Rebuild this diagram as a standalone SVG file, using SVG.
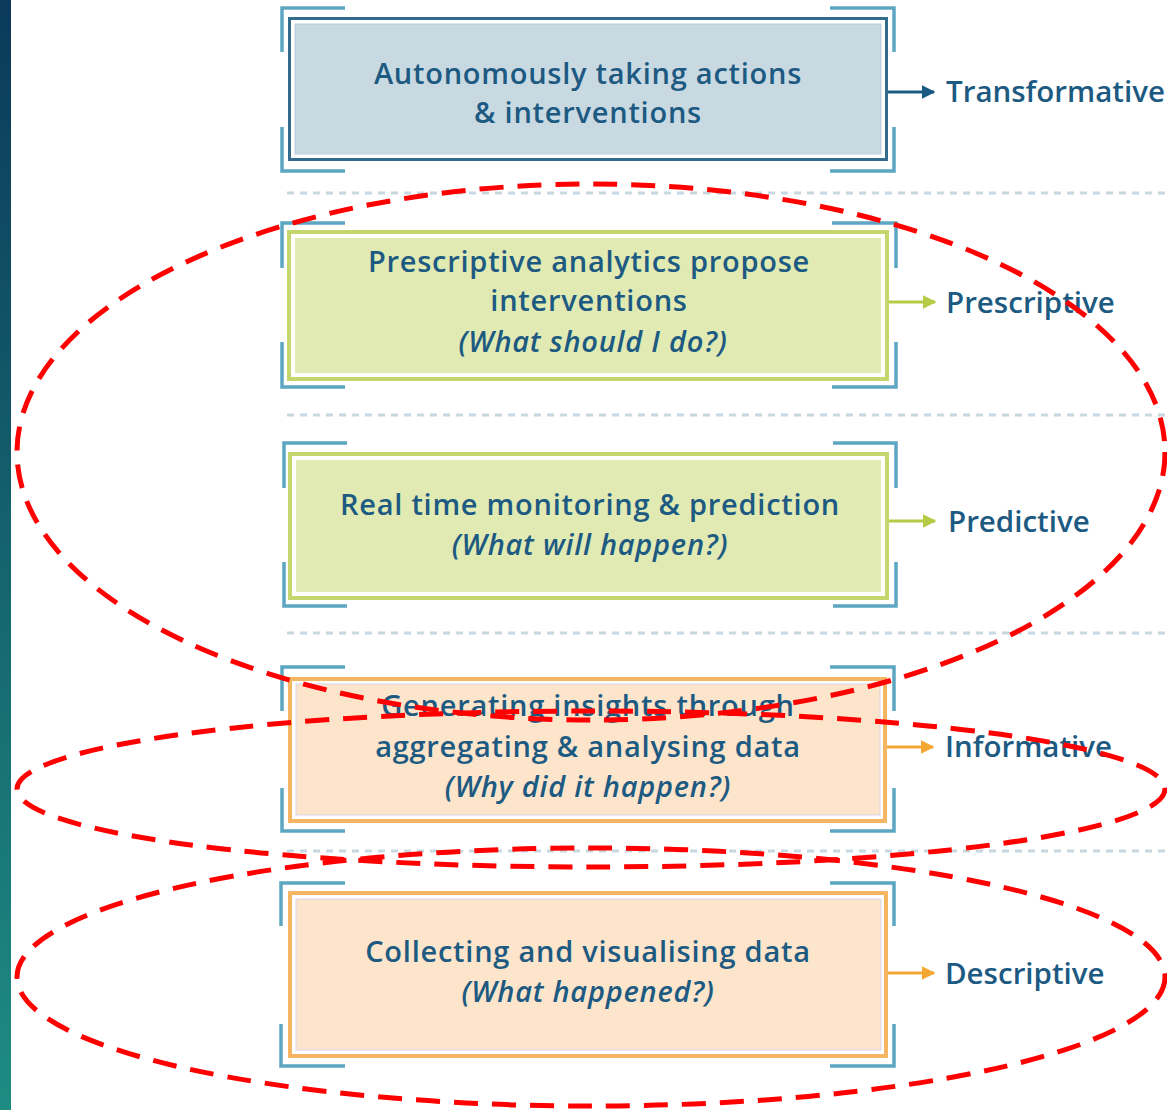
<svg xmlns="http://www.w3.org/2000/svg" width="1167" height="1110" viewBox="0 0 1167 1110">
<defs>
<linearGradient id="bar" x1="0" y1="0" x2="0" y2="1">
<stop offset="0" stop-color="#0b3a5a"/>
<stop offset="1" stop-color="#1e8c82"/>
</linearGradient>
<marker id="ahB" viewBox="0 0 10 10" refX="9" refY="5" markerWidth="4.5" markerHeight="4.5" orient="auto"><path d="M0,0 L10,5 L0,10 z" fill="#1d5a82"/></marker>
<marker id="ahG" viewBox="0 0 10 10" refX="9" refY="5" markerWidth="4.5" markerHeight="4.5" orient="auto"><path d="M0,0 L10,5 L0,10 z" fill="#b4cb45"/></marker>
<marker id="ahO" viewBox="0 0 10 10" refX="9" refY="5" markerWidth="4.5" markerHeight="4.5" orient="auto"><path d="M0,0 L10,5 L0,10 z" fill="#f4a733"/></marker>
<style>
.t{font-family:"Open Sans","Noto Sans",sans-serif;font-size:29px;font-weight:600;letter-spacing:0.75px;fill:#1d5a82;text-anchor:middle}
.i{font-style:italic}
.lab{font-family:"Open Sans","Noto Sans",sans-serif;font-size:29.5px;fill:#1d5a82;font-weight:600}
.br{fill:none;stroke:#5ca6c2;stroke-width:3.5}
.sep{stroke:#c8d8e1;stroke-width:3;stroke-dasharray:7 6}
.ell{fill:none;stroke:#ff0000;stroke-width:5;stroke-dasharray:24 14}
</style>
</defs>
<rect width="1167" height="1110" fill="#ffffff"/>
<rect x="0" y="0" width="11" height="1110" fill="url(#bar)"/>

<g id="separators">
<line class="sep" x1="287" y1="193" x2="1167" y2="193"/>
<line class="sep" x1="287" y1="415" x2="1167" y2="415"/>
<line class="sep" x1="287" y1="633" x2="1167" y2="633"/>
<line class="sep" x1="287" y1="851" x2="1167" y2="851"/>
</g>

<g id="node-transformative">
<path class="br" d="M282,52 V8 H345 M830,8 H894 V52 M282,127 V171 H345 M830,171 H894 V127"/>
<rect x="289.5" y="18.5" width="597" height="141" fill="#ffffff" stroke="#336b8f" stroke-width="3"/>
<rect x="295" y="24" width="586" height="130" fill="#c9d9e2" stroke="#b9ccd8" stroke-width="1"/>
<text class="t" x="588" y="84">Autonomously taking actions</text>
<text class="t" x="588" y="123">&amp; interventions</text>
</g>

<g id="node-prescriptive">
<path class="br" d="M282,268 V223 H345 M832,223 H896 V268 M282,342 V387 H345 M832,387 H896 V342"/>
<rect x="289" y="232" width="598" height="147" fill="#ffffff" stroke="#c4d76c" stroke-width="4"/>
<rect x="295" y="238" width="586" height="135" fill="#e1eab3"/>
<text class="t" x="589" y="272">Prescriptive analytics propose</text>
<text class="t" x="589" y="311">interventions</text>
<text class="t i" x="593" y="352">(What should I do?)</text>
</g>

<g id="node-predictive">
<path class="br" d="M284,488 V443 H347 M833,443 H896 V488 M284,562 V606 H347 M833,606 H896 V562"/>
<rect x="290" y="454" width="597" height="144" fill="#ffffff" stroke="#c4d76c" stroke-width="4"/>
<rect x="296" y="460" width="585" height="132" fill="#e1eab3"/>
<text class="t" x="590" y="515">Real time monitoring &amp; prediction</text>
<text class="t i" x="590" y="555">(What will happen?)</text>
</g>

<g id="node-informative">
<path class="br" d="M282,711 V667 H345 M830,667 H894 V711 M282,788 V831 H345 M830,831 H894 V788"/>
<rect x="290" y="679" width="595" height="142" fill="#ffffff" stroke="#f6b562" stroke-width="4"/>
<rect x="296" y="684" width="584" height="131" fill="#fde5cb" stroke="#d8d4e8" stroke-width="1"/>
<text class="t" x="588" y="716">Generating insights through</text>
<text class="t" x="588" y="757">aggregating &amp; analysing data</text>
<text class="t i" x="588" y="797">(Why did it happen?)</text>
</g>

<g id="node-descriptive">
<path class="br" d="M281,926 V883 H345 M830,883 H894 V926 M281,1024 V1066 H345 M830,1066 H894 V1024"/>
<rect x="290" y="893" width="596" height="163" fill="#ffffff" stroke="#f6b562" stroke-width="4"/>
<rect x="296" y="899" width="585" height="151" fill="#fde5cb" stroke="#d8d4e8" stroke-width="1"/>
<text class="t" x="588" y="962">Collecting and visualising data</text>
<text class="t i" x="588" y="1002">(What happened?)</text>
</g>

<g id="connectors">
<line x1="888" y1="92" x2="934" y2="92" stroke="#1d5a82" stroke-width="3" marker-end="url(#ahB)"/>
<line x1="889" y1="302" x2="935" y2="302" stroke="#b4cb45" stroke-width="3" marker-end="url(#ahG)"/>
<line x1="889" y1="521" x2="935" y2="521" stroke="#b4cb45" stroke-width="3" marker-end="url(#ahG)"/>
<line x1="887" y1="747" x2="933" y2="747" stroke="#f4a733" stroke-width="3" marker-end="url(#ahO)"/>
<line x1="888" y1="973" x2="934" y2="973" stroke="#f4a733" stroke-width="3" marker-end="url(#ahO)"/>
</g>

<g id="labels">
<text class="lab" x="946" y="102">Transformative</text>
<text class="lab" x="946" y="313">Prescriptive</text>
<text class="lab" x="948" y="532">Predictive</text>
<text class="lab" x="945" y="757">Informative</text>
<text class="lab" x="945" y="984">Descriptive</text>
</g>

<g id="highlights">
<ellipse class="ell" cx="591" cy="452" rx="574" ry="268"/>
<ellipse class="ell" cx="591" cy="789" rx="574" ry="78"/>
<ellipse class="ell" cx="591" cy="977" rx="574" ry="129"/>
</g>
</svg>
